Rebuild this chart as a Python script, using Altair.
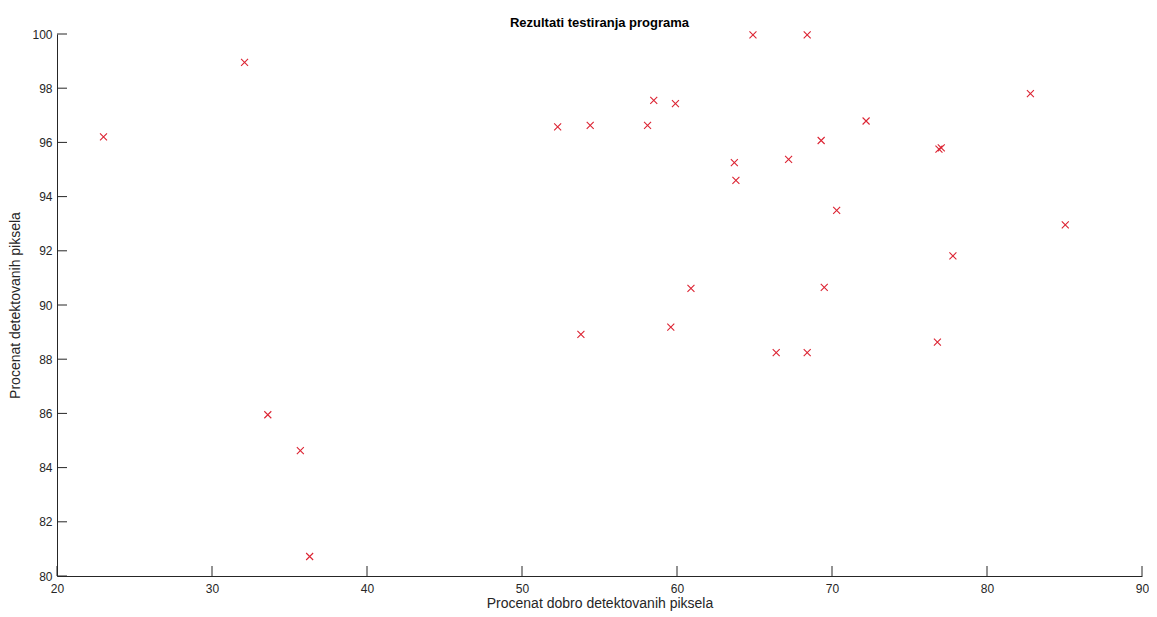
import altair as alt
import pandas as pd

# Data
x_vals = [23.0, 32.1, 33.6, 35.7, 36.3, 52.3, 54.4, 53.8, 58.1, 58.5,
          59.9, 59.6, 60.9, 63.7, 63.8, 64.9, 66.4, 67.2, 68.4, 68.4,
          69.3, 69.5, 70.3, 72.2, 76.9, 77.05, 76.8, 77.8, 82.8, 85.05]
y_vals = [96.2, 98.95, 85.95, 84.63, 80.72, 96.57, 96.63, 88.92, 96.63, 97.55,
          97.43, 89.18, 90.61, 95.25, 94.6, 99.97, 88.24, 95.37, 99.97, 88.24,
          96.07, 90.65, 93.49, 96.79, 95.75, 95.8, 88.63, 91.81, 97.8, 92.96]

x_ticks = [20, 30, 40, 50, 60, 70, 80, 90]
y_ticks = [80, 82, 84, 86, 88, 90, 92, 94, 96, 98, 100]

title_text = "Rezultati testiranja programa"
x_title = "Procenat dobro detektovanih piksela"
y_title = "Procenat detektovanih piksela"

df = pd.DataFrame({"x": x_vals, "y": y_vals})
df_xt = pd.DataFrame({"tx": x_ticks})
df_yt = pd.DataFrame({"ty": y_ticks})

W, H = 1085, 542
FONT = "Liberation Sans"
AX = "#262626"

xscale = alt.Scale(domain=[20, 90], nice=False, zero=False)
yscale = alt.Scale(domain=[80, 100], nice=False, zero=False)

x_axis = alt.Axis(values=x_ticks, title=x_title, grid=False, tickSize=0,
                  labelPadding=7, labelFlush=False, labelFontSize=12,
                  titleFontSize=14, titleFontWeight="normal",
                  titleY=31, titleBaseline="alphabetic",
                  labelColor=AX, titleColor=AX, domainColor=AX,
                  labelFont=FONT, titleFont=FONT)
y_axis = alt.Axis(values=y_ticks, title=y_title, grid=False, tickSize=0,
                  labelPadding=5, labelFlush=False, titlePadding=9, labelFontSize=12,
                  titleFontSize=14, titleFontWeight="normal",
                  labelColor=AX, titleColor=AX, domainColor=AX,
                  labelFont=FONT, titleFont=FONT)

cross_path = "M-1,-1L1,1M-1,1L1,-1"

points = alt.Chart(df).mark_point(
    shape=cross_path, filled=False, size=49, strokeWidth=1.1,
    color="#dc2433", opacity=1
).encode(
    x=alt.X("x:Q", scale=xscale, axis=x_axis),
    y=alt.Y("y:Q", scale=yscale, axis=y_axis),
)

xticks = alt.Chart(df_xt).mark_rule(color=AX, strokeWidth=1).encode(
    x=alt.X("tx:Q", scale=xscale, axis=x_axis),
    y=alt.value(H),
    y2=alt.value(H - 10),
)

yticks = alt.Chart(df_yt).mark_rule(color=AX, strokeWidth=1).encode(
    y=alt.Y("ty:Q", scale=yscale, axis=y_axis),
    x=alt.value(0),
    x2=alt.value(10),
)

chart = alt.layer(points, xticks, yticks).properties(
    width=W, height=H,
    title=alt.TitleParams(title_text, font=FONT, fontSize=13, fontWeight="bold",
                          color="#000000", anchor="middle", offset=-2),
    autosize=alt.AutoSizeParams(type="none"),
    padding={"left": 49, "top": 26, "right": 7, "bottom": 36},
    background="white",
).configure_view(stroke=None)

chart.save("out.html", embed_options={"renderer": "svg", "actions": False})
